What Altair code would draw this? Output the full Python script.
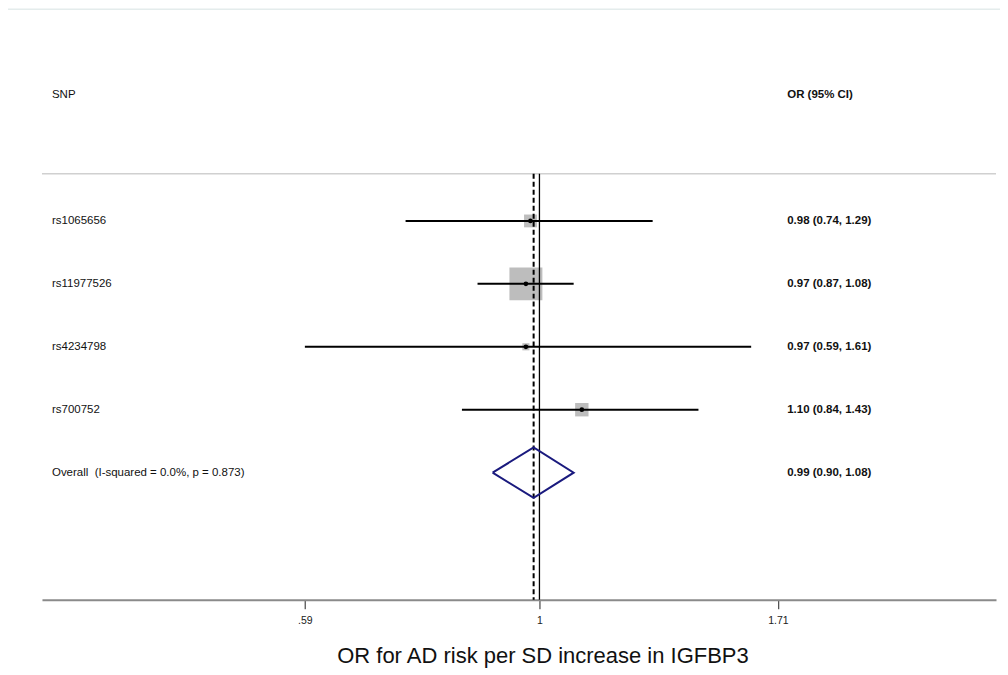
import altair as alt
import numpy as np
import pandas as pd

# ---- data ----
snps = ["rs1065656", "rs11977526", "rs4234798", "rs700752"]
or_est = [0.98, 0.97, 0.97, 1.10]
ci_lo = [0.74, 0.87, 0.59, 0.84]
ci_hi = [1.29, 1.08, 1.61, 1.43]

overall_label = "Overall\u00a0 (I-squared = 0.0%, p = 0.873)"
overall_est = 0.987
overall_lo = 0.90
overall_hi = 1.08

tick_values = [0.59, 1, 1.71]
header_left = "SNP"
header_right = "OR (95% CI)"
x_title = "OR for AD risk per SD increase in IGFBP3"

# ---- tables ----
rows = list(range(1, len(snps) + 1))
overall_row = len(snps) + 1
header_row = -1
sep_row = 0.25
y_domain = [-2.22, 7.02]

se = (np.log(ci_hi) - np.log(ci_lo)) / 3.92
weight = 1 / se**2

studies = pd.DataFrame({
    "snp": snps, "est": or_est, "lo": ci_lo, "hi": ci_hi,
    "row": rows, "w": weight,
    "txt": [f"{e:.2f} ({l:.2f}, {h:.2f})" for e, l, h in zip(or_est, ci_lo, ci_hi)],
})
overall_txt = f"{overall_est:.2f} ({overall_lo:.2f}, {overall_hi:.2f})"

left_text = pd.DataFrame({"row": [header_row] + rows + [overall_row],
                          "t": [header_left] + snps + [overall_label]})
right_text = pd.DataFrame({"row": rows + [overall_row],
                           "t": list(studies["txt"]) + [overall_txt]})
right_head = pd.DataFrame({"row": [header_row], "t": [header_right]})

diamond = pd.DataFrame({
    "x": [overall_lo, overall_est, overall_hi, overall_est, overall_lo],
    "y": [overall_row, overall_row - 0.4, overall_row, overall_row + 0.4, overall_row],
    "o": [0, 1, 2, 3, 4],
})
ref_lines = pd.DataFrame({"x": [1.0], "y": [sep_row], "y2": [y_domain[1]]})
pooled_line = pd.DataFrame({"x": [overall_est], "y": [sep_row], "y2": [y_domain[1]]})
sep_df = pd.DataFrame({"y": [sep_row]})

W, H = 955, 582
FONT = "Liberation Sans"

x_scale = alt.Scale(type="log", domain=[0.3266, 2.7926], nice=False, zero=False)
y_scale = alt.Scale(domain=y_domain, reverse=True, nice=False, zero=False)

x_axis = alt.Axis(
    values=tick_values,
    labelExpr="replace(format(datum.value, '~g'), '0.', '.')",
    grid=False, domainColor="#8a8a8a", domainWidth=2,
    tickColor="#222222", tickWidth=1, tickSize=9,
    labelFont=FONT, labelFontSize=10.5, labelColor="#222222", labelPadding=7,
    title=x_title, titleFont=FONT, titleFontSize=22, titleFontWeight="normal",
    titleColor="#111111", titleX=501, titleY=63, titleBaseline="alphabetic",
    titleAlign="center",
)


def X(field):
    return alt.X(field, type="quantitative", scale=x_scale, axis=x_axis)


def Y(field):
    return alt.Y(field, type="quantitative", scale=y_scale, axis=None)


base_s = alt.Chart(studies)

boxes = base_s.mark_square(color="#bdbdbd", opacity=1).encode(
    x=X("est"), y=Y("row"),
    size=alt.Size("w:Q", scale=alt.Scale(domain=[0, float(weight.max())], range=[0, 1089]), legend=None),
)

solid = alt.Chart(ref_lines).mark_rule(color="#000000", strokeWidth=1.3).encode(
    x=X("x"), y=Y("y"), y2="y2")
dashed = alt.Chart(pooled_line).mark_rule(color="#000000", strokeWidth=2, strokeDash=[5, 3]).encode(
    x=X("x"), y=Y("y"), y2="y2")

ci = base_s.mark_rule(color="#000000", strokeWidth=2).encode(x=X("lo"), x2="hi", y=Y("row"))
dots = base_s.mark_circle(color="#000000", opacity=1, size=22).encode(x=X("est"), y=Y("row"))

dia = alt.Chart(diamond).mark_line(color="#1a1a7e", strokeWidth=2, strokeJoin="miter").encode(
    x=X("x"), y=Y("y"), order="o:Q")

sep = alt.Chart(sep_df).mark_rule(color="#d0d0d0", strokeWidth=1.5).encode(
    x=alt.value(0), x2=alt.value(W), y=Y("y"))

top_line = alt.Chart(sep_df).mark_rule(color="#e4ecec", strokeWidth=1.5).encode(
    x=alt.value(-34), x2=alt.value(970), y=alt.value(-9))

ltxt = alt.Chart(left_text).mark_text(
    align="left", baseline="middle", font=FONT, fontSize=11.5, color="#111111"
).encode(x=alt.value(10), y=Y("row"), text="t:N")

rtxt = alt.Chart(right_text).mark_text(
    align="left", baseline="middle", font=FONT, fontSize=11.5, fontWeight="bold", color="#111111"
).encode(x=alt.value(746), y=Y("row"), text="t:N")

rhead = alt.Chart(right_head).mark_text(
    align="left", baseline="middle", font=FONT, fontSize=11.5, fontWeight="bold", color="#111111"
).encode(x=alt.value(746), y=Y("row"), text="t:N")

chart = alt.layer(
    top_line, sep, boxes, solid, dashed, ci, dots, dia, ltxt, rtxt, rhead
).properties(
    width=W, height=H,
    padding={"left": 34, "top": 10, "right": 4, "bottom": 75},
    autosize=alt.AutoSizeParams(type="none"),
    background="white",
).configure_view(stroke=None)

chart.save("out.html", embed_options={"renderer": "svg", "actions": False})
